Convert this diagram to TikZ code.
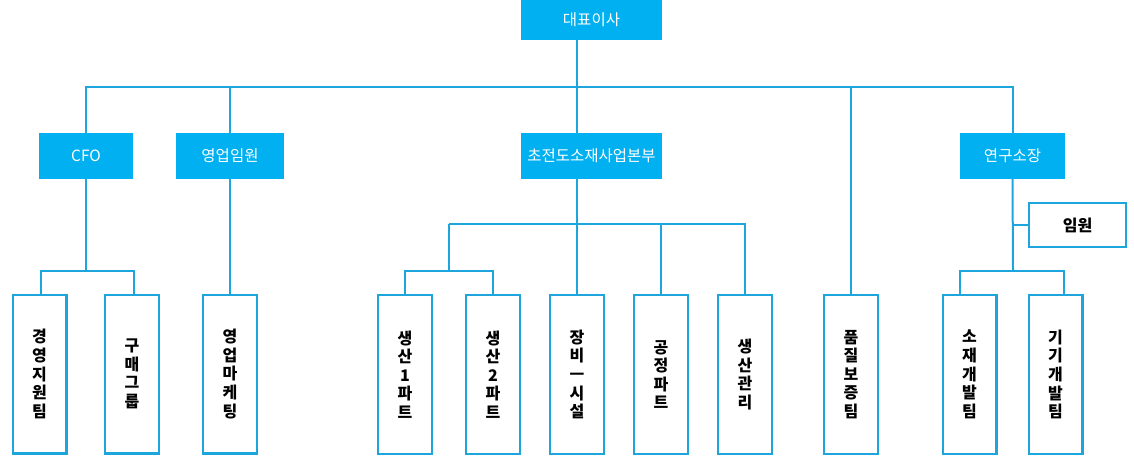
\documentclass[tikz,border=0pt]{standalone}
\usepackage{fontspec}
\newfontfamily\kr{Noto Sans CJK KR}
\usetikzlibrary{calc}
\definecolor{boxfill}{HTML}{00B0F0}
\definecolor{linec}{HTML}{1DA6DE}
\begin{document}
\begin{tikzpicture}[x=1pt,y=-1pt,
  conn/.style={draw=linec,line width=2pt},
  topbox/.style={fill=boxfill,draw=none,inner sep=0pt,text=white,
    font=\kr\fontsize{15.5}{17}\selectfont},
  vbox/.style={draw=linec,line width=2.4pt,fill=white,inner sep=0pt,
    minimum width=53.6pt,minimum height=158.6pt,align=center,
    font=\kr\bfseries\fontsize{16}{18.6}\selectfont},
  hbox/.style={draw=linec,line width=2.4pt,fill=white,inner sep=0pt,
    font=\kr\bfseries\fontsize{16}{18}\selectfont}]
\useasboundingbox (0,0) rectangle (1134,458);
% top level
\node[topbox,minimum width=141pt,minimum height=40pt] (ceo) at (591.5,20) {대표이사};
\node[topbox,minimum width=94pt,minimum height=46pt] (cfo) at (86,156) {CFO};
\node[topbox,minimum width=108pt,minimum height=46pt] (sales) at (230,156) {영업임원};
\node[topbox,minimum width=141pt,minimum height=46pt] (cho) at (591.5,156) {초전도소재사업본부};
\node[topbox,minimum width=105pt,minimum height=46pt] (rl) at (1012.5,156) {연구소장};
\node[hbox,minimum width=96.6pt,minimum height=43.6pt] (exec) at (1077.5,225) {임원};
% bottom boxes
\node[vbox] (t1) at (39.5,374) {경\\영\\지\\원\\팀};
\node[vbox] (t2) at (132,374) {구\\매\\그\\룹};
\node[vbox] (t3) at (230,374) {영\\업\\마\\케\\팅};
\node[vbox] (p1) at (405,374.5) {생\\산\\1\\파\\트};
\node[vbox] (p2) at (493,374.5) {생\\산\\2\\파\\트};
\node[vbox] (eq) at (577,374.5) {장\\비\\ㅡ\\시\\설};
\node[vbox] (pr) at (661,374.5) {공\\정\\파\\트};
\node[vbox] (pm) at (745,374.5) {생\\산\\관\\리};
\node[vbox] (qa) at (851,374.5) {품\\질\\보\\증\\팀};
\node[vbox] (r1) at (969.5,374.5) {소\\재\\개\\발\\팀};
\node[vbox] (r2) at (1055.5,374.5) {기\\기\\개\\발\\팀};
% coordinates
\coordinate (spine) at (577,0);
\coordinate (bus) at (577,87);
\coordinate (j1) at (86,271);
\coordinate (j2) at (577,224);
\coordinate (j3) at (449,224);
\coordinate (j4) at (449,271);
\coordinate (j5) at (1013,271);
% connectors
\draw[conn] (ceo.south -| spine) -- (cho.north -| spine);
\draw[conn] (cfo.north) |- (bus) -| (rl.north);
\draw[conn] (sales.north |- bus) -- (sales.north);
\draw[conn] (qa.north |- bus) -- (qa.north);
% CFO
\draw[conn] (cfo.south) -- (j1);
\draw[conn] (t1.north -| 41,0) |- (j1) -| (t2.north -| 134,0);
\draw[conn] (sales.south) -- (t3.north);
% production
\draw[conn] (cho.south -| spine) -- (eq.north);
\draw[conn] (j3) -| (pm.north);
\draw[conn] (pr.north |- j2) -- (pr.north);
\draw[conn] (j3) -- (j4);
\draw[conn] (p1.north) |- (j4) -| (p2.north);
% research
\draw[conn] (rl.south) -- (j5);
\draw[conn] (exec.west) -- (exec.west -| rl.south);
\draw[conn] (r1.north -| 960,0) |- (j5) -| (r2.north -| 1064,0);
\end{tikzpicture}
\end{document}
